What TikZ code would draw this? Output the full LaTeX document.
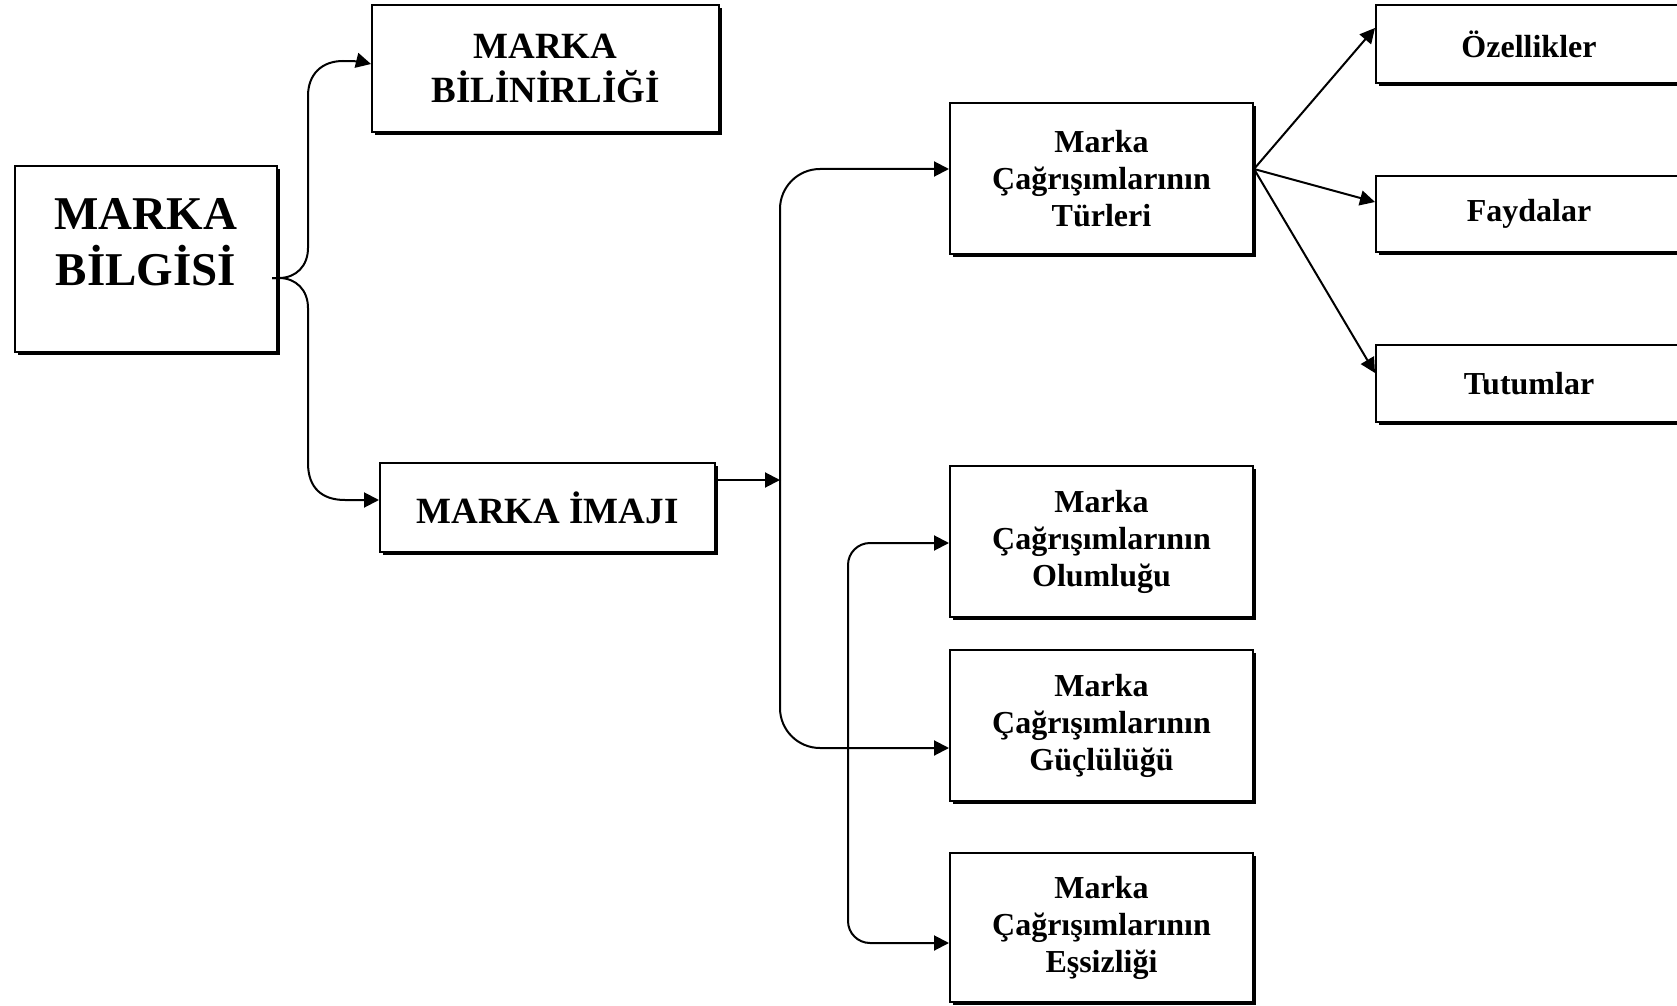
\documentclass[tikz,border=0pt]{standalone}
\usepackage{fontspec}
\setmainfont{Liberation Serif}
\usetikzlibrary{arrows.meta,shadows}
\begin{document}
\begin{tikzpicture}[x=0.5pt,y=-0.5pt,
  box/.style={draw, line width=1pt, fill=white, inner sep=0pt, align=center,
    font=\bfseries\fontsize{16}{18.5}\selectfont,
    drop shadow={shadow xshift=1.5pt, shadow yshift=-1.5pt, opacity=1, fill=black}},
  small/.style={box, minimum width=151.5pt, minimum height=75.5pt},
  side/.style={box, minimum width=153pt},
  conn/.style={line width=1pt},
  arr/.style={conn, -{Triangle[length=7.5pt,width=7.5pt]}},
]
\useasboundingbox (0,0) rectangle (1677,1006);

% boxes
\node[box, minimum width=131pt, minimum height=93pt] (bilgisi) at (146,259) {};
\node[font=\bfseries\fontsize{23.5}{28}\selectfont, align=center, inner sep=0pt] (bilgisitxt) at (146,242) {MARKA\\BİLGİSİ};
\node[box, font=\bfseries\fontsize{18.5}{22}\selectfont, minimum width=173.5pt, minimum height=63.5pt] (bilinirlik) at (545.5,68.5) {MARKA\\BİLİNİRLİĞİ};
\node[box, font=\bfseries\fontsize{18.5}{22}\selectfont, minimum width=167.5pt, minimum height=44.5pt] (imaji) at (547.5,507.5) {MARKA İMAJI};
\node[small] (turleri) at (1101.5,178.5) {Marka\\Çağrışımlarının\\Türleri};
\node[small] (olumlu) at (1101.5,541.5) {Marka\\Çağrışımlarının\\Olumluğu};
\node[small] (guclu) at (1101.5,725.5) {Marka\\Çağrışımlarının\\Güçlülüğü};
\node[small, minimum height=74.5pt] (essiz) at (1101.5,927.5) {Marka\\Çağrışımlarının\\Eşsizliği};
\node[side, minimum height=39pt] (ozellik) at (1529,44) {Özellikler};
\node[side, minimum height=38pt] (faydalar) at (1529,214) {\raisebox{-2pt}{Faydalar}};
\node[side, minimum height=38.5pt] (tutumlar) at (1529,383.5) {Tutumlar};

% brace from MARKA BILGISI
\coordinate (brace) at (272,278);
\draw[arr] (brace) -- (279,278) .. controls (296,278) and (308,266) .. (308,248) -- (308,96)
  .. controls (308,74) and (322,61) .. (343,61) .. controls (355,61) and (363,62) .. ([yshift=2.25pt]bilinirlik.west);
\draw[arr] (brace) -- (279,278) .. controls (296,278) and (308,290) .. (308,308) -- (308,463)
  .. controls (308,488) and (322,500) .. (345,500) -- ([yshift=3.75pt]imaji.west);

% from MARKA IMAJI
\coordinate (j1) at (780,480);
\draw[arr] ([yshift=13.75pt]imaji.east) -- (j1);
\draw[arr, rounded corners=20pt] (j1) |- ([yshift=4.75pt]turleri.west);
\draw[arr, rounded corners=20pt] (j1) |- ([yshift=-11.25pt]guclu.west);

% second bracket
\coordinate (j2) at (848,743);
\draw[arr, rounded corners=11pt] (j2) |- ([yshift=-0.75pt]olumlu.west);
\draw[arr, rounded corners=11pt] (j2) |- ([yshift=-7.75pt]essiz.west);

% fan
\coordinate (fan) at ([yshift=4.75pt]turleri.east);
\draw[arr] (fan) -- ([yshift=8pt]ozellik.west);
\draw[arr] (fan) -- ([yshift=6pt]faydalar.west);
\draw[arr] (fan) -- ([yshift=5.25pt]tutumlar.west);
\end{tikzpicture}
\end{document}
